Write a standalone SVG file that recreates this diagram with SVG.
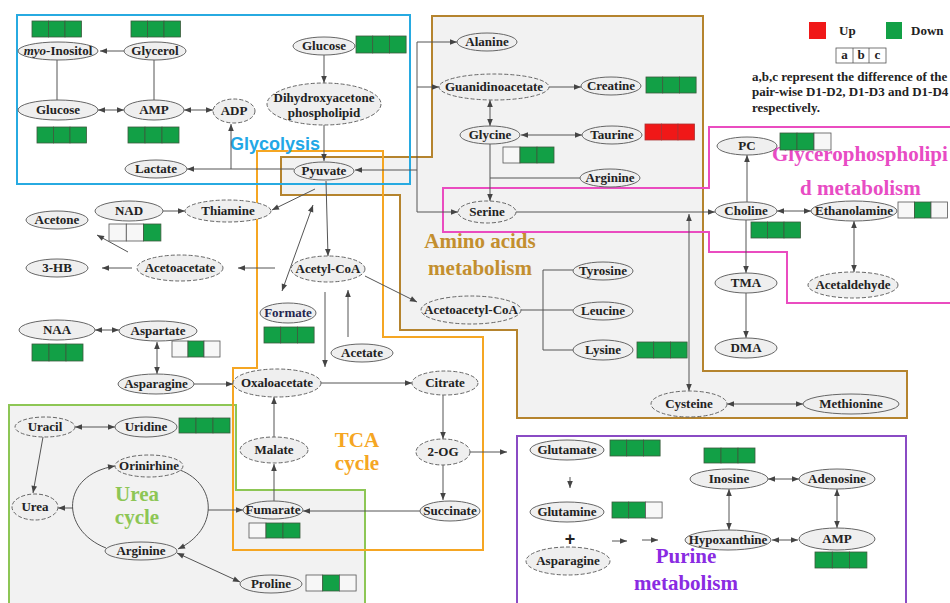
<svg xmlns="http://www.w3.org/2000/svg" width="950" height="603" viewBox="0 0 950 603">
<style>
.n{fill:#efefef;stroke:#666;stroke-width:1}
.d{fill:#efefef;stroke:#666;stroke-width:1;stroke-dasharray:4,2}
.t{font-family:"Liberation Serif","Times New Roman",serif;font-weight:bold;font-size:13px;fill:#222;text-anchor:middle}
.c{fill:none;stroke:#555;stroke-width:1}
.e{marker-end:url(#ah)}
.b{marker-start:url(#ah);marker-end:url(#ah)}
.G{fill:#12a046;stroke:#3d5a3d;stroke-width:0.8}
.W{fill:#f7f7f7;stroke:#555;stroke-width:0.8}
.R{fill:#f01818;stroke:#a33;stroke-width:0.8}
.ti{font-family:"Liberation Serif","Times New Roman",serif;font-weight:bold;font-size:21px}
.lg{font-family:"Liberation Serif","Times New Roman",serif;font-weight:bold;font-size:13px;fill:#222}
</style>
<defs>
<marker id="ah" viewBox="0 0 10 10" refX="10" refY="5" markerWidth="8" markerHeight="7" markerUnits="userSpaceOnUse" orient="auto-start-reverse">
<path d="M0,1 L10,5 L0,9 z" fill="#444"/>
</marker>
</defs>
<rect x="0" y="0" width="950" height="603" fill="#fff"/>

<g id="regions">
<rect x="17" y="15" width="393" height="169" fill="#fff"/>
<polygon points="257,151 383,151 383,337 483,337 483,550 233,550 233,368 257,368" fill="#fff"/>
<polygon points="432,16 703,16 703,371 907,371 907,418 517,418 517,330 400,330 400,195 281,195 281,157 432,157" fill="#f2f2f2" stroke="#b5842e" stroke-width="2"/>
<polygon points="9,405 236,405 236,490 365,490 365,606 9,606" fill="#f2f2f2" stroke="#8dc655" stroke-width="2"/>
<polygon points="257,151 383,151 383,337 483,337 483,550 233,550 233,368 257,368" fill="none" stroke="#f5a623" stroke-width="2"/>
<rect x="17" y="15" width="393" height="169" fill="none" stroke="#27aae1" stroke-width="2"/>
<polygon points="709,127 953,127 953,303 787,303 787,252 709,252 709,232 443,232 443,188 709,188" fill="none" stroke="#ea4cc0" stroke-width="2"/>
<rect x="517" y="436" width="389" height="172" fill="#fff" stroke="#8a4bc4" stroke-width="2"/>
</g>

<g id="titles">
<text x="230" y="150" font-family="Liberation Sans,Arial,sans-serif" font-weight="bold" font-size="18" fill="#22a7e6">Glycolysis</text>
<text class="ti" x="480" y="248" text-anchor="middle" fill="#c38f2f">Amino acids</text>
<text class="ti" x="480" y="275" text-anchor="middle" fill="#c38f2f">metabolism</text>
<text class="ti" x="357" y="447" text-anchor="middle" fill="#f5a623">TCA</text>
<text class="ti" x="357" y="470" text-anchor="middle" fill="#f5a623">cycle</text>
<text class="ti" x="137" y="501" text-anchor="middle" fill="#8dc655" font-size="22">Urea</text>
<text class="ti" x="137" y="524" text-anchor="middle" fill="#8dc655" font-size="22">cycle</text>
<text class="ti" x="686" y="563" text-anchor="middle" fill="#8a2be2">Purine</text>
<text class="ti" x="686" y="590" text-anchor="middle" fill="#8a2be2">metabolism</text>
<text class="ti" x="772" y="161" fill="#e84cc4">Glycerophospholipi</text>
<text class="ti" x="800" y="195" fill="#e84cc4">d metabolism</text>
</g>

<g id="legend">
<rect x="809" y="22" width="17" height="17" fill="#f01818"/>
<text class="lg" x="839" y="35">Up</text>
<rect x="886" y="22" width="16" height="17" fill="#12a046"/>
<text class="lg" x="911" y="35">Down</text>
<rect x="836" y="48" width="50" height="15" fill="#fff" stroke="#555" stroke-width="0.8"/>
<line x1="853" y1="48" x2="853" y2="63" stroke="#555" stroke-width="0.8"/>
<line x1="869" y1="48" x2="869" y2="63" stroke="#555" stroke-width="0.8"/>
<text class="lg" x="844.5" y="59" font-size="10" text-anchor="middle">a</text>
<text class="lg" x="861" y="59" font-size="10" text-anchor="middle">b</text>
<text class="lg" x="877.5" y="59" font-size="10" text-anchor="middle">c</text>
<text class="lg" x="752" y="81">a,b,c represent the difference of the</text>
<text class="lg" x="752" y="96">pair-wise D1-D2, D1-D3 and D1-D4</text>
<text class="lg" x="752" y="112">respectively.</text>
</g>

<g id="connectors">
<path class="c e" d="M124,51 L100,51"/>
<path class="c" d="M57,60 L57,100"/>
<path class="c" d="M154,60 L154,100"/>
<path class="c b" d="M98,110 L124,110"/>
<path class="c b" d="M184,110 L213,110"/>
<path class="c e" d="M324,55 L324,83"/>
<path class="c e" d="M324,125 L324,161"/>
<path class="c e" d="M294,169 L187,169"/>
<path class="c e" d="M231,169 L231,124"/>
<path class="c e" d="M417,170 L417,42 L457,42"/>
<path class="c e" d="M417,87 L439,87"/>
<path class="c e" d="M417,170 L355,170"/>
<path class="c e" d="M417,170 L417,212 L458,212"/>
<path class="c e" d="M549,87 L581,87"/>
<path class="c b" d="M490,100 L490,126"/>
<path class="c b" d="M521,135 L582,135"/>
<path class="c e" d="M490,144 L490,201"/>
<path class="c" d="M490,178 L580,178"/>
<path class="c e" d="M516,212 L715,212"/>
<path class="c b" d="M689,214 L689,391"/>
<path class="c e" d="M747,202 L747,155"/>
<path class="c e" d="M746,220 L746,273"/>
<path class="c e" d="M746,293 L746,338"/>
<path class="c b" d="M777,211 L811,211"/>
<path class="c b" d="M854,221 L854,272"/>
<path class="c e" d="M315,189 L272,210"/>
<path class="c e" d="M326,181 L328,256"/>
<path class="c b" d="M313,205 L282,291"/>
<path class="c e" d="M163,211 L185,211"/>
<path class="c e" d="M275,268 L238,268"/>
<path class="c e" d="M132,268 L102,268"/>
<path class="c e" d="M128,252 L97,235"/>
<path class="c e" d="M365,276 L417,302"/>
<path class="c e" d="M348,337 L348,290"/>
<path class="c e" d="M325,292 L325,367"/>
<path class="c" d="M505,310 L573,310"/>
<path class="c" d="M573,270 L543,270 L543,350 L573,350"/>
<path class="c b" d="M95,330 L119,330"/>
<path class="c b" d="M157,342 L157,374"/>
<path class="c e" d="M194,384 L233,384"/>
<path class="c e" d="M321,383 L412,383"/>
<path class="c e" d="M443,395 L443,439"/>
<path class="c e" d="M470,452 L507,452"/>
<path class="c e" d="M443,465 L443,500"/>
<path class="c e" d="M420,511 L303,511"/>
<path class="c e" d="M274,501 L274,464"/>
<path class="c e" d="M274,437 L274,397"/>
<path class="c b" d="M727,404 L803,404"/>
<path class="c b" d="M75,427 L115,427"/>
<path class="c e" d="M43,437 L33,493"/>
<path class="c e" d="M106,548 C60,530 60,475 115,466"/>
<path class="c e" d="M180,470 C218,485 218,530 178,549"/>
<path class="c e" d="M73,508 L58,508"/>
<path class="c e" d="M208,510 L243,510"/>
<path class="c b" d="M177,553 L240,582"/>
<path class="c e" d="M570,477 L570,488"/>
<path class="c e" d="M612,541 L627,541"/>
<path class="c e" d="M642,540 L658,540"/>
<path class="c b" d="M768,479 L799,479"/>
<path class="c b" d="M729,489 L729,530"/>
<path class="c b" d="M837,489 L837,528"/>
<path class="c b" d="M772,540 L798,540"/>
</g>

<g id="myo-inositol"><ellipse class="n" cx="58" cy="51" rx="40" ry="9"/><text class="t" x="58" y="55"><tspan font-style="italic">myo</tspan>-Inositol</text>
<rect class="G" x="32" y="21" width="16.5" height="16"/><rect class="G" x="48.5" y="21" width="16.5" height="16"/><rect class="G" x="65" y="21" width="16.5" height="16"/></g>
<g id="glycerol"><ellipse class="n" cx="155" cy="51" rx="31" ry="9"/><text class="t" x="155" y="55">Glycerol</text>
<rect class="G" x="131" y="21" width="16.5" height="16"/><rect class="G" x="147.5" y="21" width="16.5" height="16"/><rect class="G" x="164" y="21" width="16.5" height="16"/></g>
<g id="glucose1"><ellipse class="n" cx="58" cy="110" rx="40" ry="10"/><text class="t" x="58" y="114">Glucose</text>
<rect class="G" x="37" y="127" width="16.5" height="16"/><rect class="G" x="53.5" y="127" width="16.5" height="16"/><rect class="G" x="70" y="127" width="16.5" height="16"/></g>
<g id="amp1"><ellipse class="n" cx="154" cy="110" rx="30" ry="10"/><text class="t" x="154" y="114">AMP</text>
<rect class="G" x="128" y="127" width="17" height="16"/><rect class="G" x="145" y="127" width="17" height="16"/><rect class="G" x="162" y="127" width="17" height="16"/></g>
<g id="adp"><ellipse class="d" cx="234" cy="111" rx="21" ry="12"/><text class="t" x="234" y="115">ADP</text></g>
<g id="lactate"><ellipse class="n" cx="156" cy="169" rx="31" ry="9"/><text class="t" x="156" y="173">Lactate</text></g>
<g id="glucose2"><ellipse class="n" cx="324" cy="46" rx="31" ry="9"/><text class="t" x="324" y="50">Glucose</text>
<rect class="G" x="356" y="36" width="16.7" height="17"/><rect class="G" x="372.7" y="36" width="16.7" height="17"/><rect class="G" x="389.4" y="36" width="16.7" height="17"/></g>
<g id="dhap"><ellipse class="d" cx="324" cy="104" rx="57" ry="21"/><text class="t" x="324" y="102">Dihydroxyacetone</text><text class="t" x="324" y="117">phospholipid</text></g>
<g id="pyuvate"><ellipse class="n" cx="324" cy="171" rx="30" ry="9"/><text class="t" x="324" y="175">Pyuvate</text></g>
<g id="alanine"><ellipse class="n" cx="487" cy="42" rx="30" ry="9"/><text class="t" x="487" y="46">Alanine</text></g>
<g id="guanidinoacetate"><ellipse class="d" cx="494" cy="87" rx="55" ry="13"/><text class="t" x="494" y="91">Guanidinoacetate</text></g>
<g id="creatine"><ellipse class="n" cx="611" cy="86" rx="30" ry="9"/><text class="t" x="611" y="90">Creatine</text>
<rect class="G" x="646" y="77" width="16.7" height="16"/><rect class="G" x="662.7" y="77" width="16.7" height="16"/><rect class="G" x="679.4" y="77" width="16.7" height="16"/></g>
<g id="glycine"><ellipse class="n" cx="490" cy="135" rx="30" ry="9"/><text class="t" x="490" y="139">Glycine</text>
<rect class="W" x="503" y="147" width="17" height="16"/><rect class="G" x="520" y="147" width="17" height="16"/><rect class="G" x="537" y="147" width="17" height="16"/></g>
<g id="taurine"><ellipse class="n" cx="612" cy="135" rx="30" ry="9"/><text class="t" x="612" y="139">Taurine</text>
<rect class="R" x="645" y="124" width="16.5" height="16"/><rect class="R" x="661.5" y="124" width="16.5" height="16"/><rect class="R" x="678" y="124" width="16.5" height="16"/></g>
<g id="arginine1"><ellipse class="n" cx="610" cy="178" rx="30" ry="9"/><text class="t" x="610" y="182">Arginine</text></g>
<g id="serine"><ellipse class="d" cx="487" cy="212" rx="29" ry="11"/><text class="t" x="487" y="216">Serine</text></g>
<g id="pc"><ellipse class="n" cx="747" cy="146" rx="30" ry="9"/><text class="t" x="747" y="150">PC</text>
<rect class="G" x="780" y="133" width="17" height="17"/><rect class="G" x="797" y="133" width="17" height="17"/><rect class="W" x="814" y="133" width="17" height="17"/></g>
<g id="choline"><ellipse class="n" cx="746" cy="211" rx="31" ry="9"/><text class="t" x="746" y="215">Choline</text>
<rect class="G" x="751" y="222" width="16.5" height="16"/><rect class="G" x="767.5" y="222" width="16.5" height="16"/><rect class="G" x="784" y="222" width="16.5" height="16"/></g>
<g id="ethanolamine"><ellipse class="n" cx="854" cy="211" rx="43" ry="10"/><text class="t" x="854" y="215">Ethanolamine</text>
<rect class="W" x="898" y="202" width="16.5" height="16"/><rect class="G" x="914.5" y="202" width="16.5" height="16"/><rect class="W" x="931" y="202" width="16.5" height="16"/></g>
<g id="tma"><ellipse class="n" cx="746" cy="283" rx="31" ry="10"/><text class="t" x="746" y="287">TMA</text></g>
<g id="dma"><ellipse class="n" cx="746" cy="348" rx="31" ry="10"/><text class="t" x="746" y="352">DMA</text></g>
<g id="acetaldehyde"><ellipse class="d" cx="853" cy="285" rx="45" ry="13"/><text class="t" x="853" y="289">Acetaldehyde</text></g>
<g id="acetone"><ellipse class="n" cx="57" cy="220" rx="31" ry="9"/><text class="t" x="57" y="224">Acetone</text></g>
<g id="nad"><ellipse class="n" cx="129" cy="211" rx="34" ry="10"/><text class="t" x="129" y="215">NAD</text>
<rect class="W" x="109" y="224" width="17.3" height="17"/><rect class="W" x="126.3" y="224" width="17.3" height="17"/><rect class="G" x="143.6" y="224" width="17.3" height="17"/></g>
<g id="thiamine"><ellipse class="d" cx="228" cy="211" rx="43" ry="11"/><text class="t" x="228" y="215">Thiamine</text></g>
<g id="3-hb"><ellipse class="n" cx="57" cy="268" rx="31" ry="9"/><text class="t" x="57" y="272">3-HB</text></g>
<g id="acetoacetate"><ellipse class="d" cx="180" cy="268" rx="43" ry="13"/><text class="t" x="180" y="272">Acetoacetate</text></g>
<g id="acetyl-coa"><ellipse class="d" cx="328" cy="269" rx="37" ry="13"/><text class="t" x="328" y="273">Acetyl-CoA</text></g>
<g id="formate"><ellipse class="n" cx="288" cy="313" rx="28" ry="10"/><text class="t" x="288" y="317" style="fill:#252550">Formate</text>
<rect class="G" x="264" y="327" width="16.7" height="16"/><rect class="G" x="280.7" y="327" width="16.7" height="16"/><rect class="G" x="297.4" y="327" width="16.7" height="16"/></g>
<g id="acetate"><ellipse class="n" cx="362" cy="353" rx="31" ry="9"/><text class="t" x="362" y="357">Acetate</text></g>
<g id="acetoacetyl-coa"><ellipse class="d" cx="471" cy="310" rx="50" ry="14"/><text class="t" x="471" y="314">Acetoacetyl-CoA</text></g>
<g id="tyrosine"><ellipse class="n" cx="603" cy="271" rx="30" ry="9"/><text class="t" x="603" y="275">Tyrosine</text></g>
<g id="leucine"><ellipse class="n" cx="603" cy="311" rx="30" ry="9"/><text class="t" x="603" y="315">Leucine</text></g>
<g id="lysine"><ellipse class="n" cx="603" cy="350" rx="30" ry="10"/><text class="t" x="603" y="354">Lysine</text>
<rect class="G" x="637" y="342" width="16.7" height="16"/><rect class="G" x="653.7" y="342" width="16.7" height="16"/><rect class="G" x="670.4" y="342" width="16.7" height="16"/></g>
<g id="naa"><ellipse class="n" cx="57" cy="330" rx="38" ry="10"/><text class="t" x="57" y="334">NAA</text>
<rect class="G" x="32" y="344" width="17" height="17"/><rect class="G" x="49" y="344" width="17" height="17"/><rect class="G" x="66" y="344" width="17" height="17"/></g>
<g id="aspartate"><ellipse class="n" cx="158" cy="331" rx="39" ry="10"/><text class="t" x="158" y="335">Aspartate</text>
<rect class="W" x="172" y="341" width="16" height="16"/><rect class="G" x="188" y="341" width="16" height="16"/><rect class="W" x="204" y="341" width="16" height="16"/></g>
<g id="asparagine1"><ellipse class="n" cx="156" cy="384" rx="38" ry="10"/><text class="t" x="156" y="388">Asparagine</text></g>
<g id="oxaloacetate"><ellipse class="d" cx="277" cy="383" rx="44" ry="14"/><text class="t" x="277" y="387">Oxaloacetate</text></g>
<g id="citrate"><ellipse class="d" cx="445" cy="383" rx="33" ry="12"/><text class="t" x="445" y="387">Citrate</text></g>
<g id="2-og"><ellipse class="d" cx="443" cy="452" rx="27" ry="13"/><text class="t" x="443" y="456">2-OG</text></g>
<g id="succinate"><ellipse class="n" cx="450" cy="511" rx="30" ry="10"/><text class="t" x="450" y="515">Succinate</text></g>
<g id="malate"><ellipse class="d" cx="274" cy="450" rx="34" ry="13"/><text class="t" x="274" y="454">Malate</text></g>
<g id="fumarate"><ellipse class="n" cx="273" cy="510" rx="30" ry="9"/><text class="t" x="273" y="514">Fumarate</text>
<rect class="W" x="249" y="523" width="17" height="15"/><rect class="G" x="266" y="523" width="17" height="15"/><rect class="G" x="283" y="523" width="17" height="15"/></g>
<g id="cysteine"><ellipse class="d" cx="689" cy="404" rx="38" ry="13"/><text class="t" x="689" y="408">Cysteine</text></g>
<g id="methionine"><ellipse class="n" cx="851" cy="404" rx="48" ry="10"/><text class="t" x="851" y="408">Methionine</text></g>
<g id="uracil"><ellipse class="d" cx="45" cy="427" rx="30" ry="10"/><text class="t" x="45" y="431">Uracil</text></g>
<g id="uridine"><ellipse class="n" cx="146" cy="427" rx="31" ry="10"/><text class="t" x="146" y="431">Uridine</text>
<rect class="G" x="179" y="418" width="17" height="15"/><rect class="G" x="196" y="418" width="17" height="15"/><rect class="G" x="213" y="418" width="17" height="15"/></g>
<g id="urea"><ellipse class="d" cx="35" cy="507" rx="23" ry="13"/><text class="t" x="35" y="511">Urea</text></g>
<g id="orinirhine"><ellipse class="d" cx="149" cy="466" rx="34" ry="11"/><text class="t" x="149" y="470">Orinirhine</text></g>
<g id="arginine2"><ellipse class="n" cx="141" cy="551" rx="36" ry="9"/><text class="t" x="141" y="555">Arginine</text></g>
<g id="proline"><ellipse class="n" cx="271" cy="584" rx="31" ry="9"/><text class="t" x="271" y="588">Proline</text>
<rect class="W" x="306" y="575" width="16.7" height="16"/><rect class="G" x="322.7" y="575" width="16.7" height="16"/><rect class="W" x="339.4" y="575" width="16.7" height="16"/></g>
<g id="glutamate"><ellipse class="n" cx="567" cy="450" rx="37" ry="10"/><text class="t" x="567" y="454">Glutamate</text>
<rect class="G" x="610" y="440" width="16.7" height="16"/><rect class="G" x="626.7" y="440" width="16.7" height="16"/><rect class="G" x="643.4" y="440" width="16.7" height="16"/></g>
<g id="glutamine"><ellipse class="n" cx="567" cy="512" rx="37" ry="10"/><text class="t" x="567" y="516">Glutamine</text>
<rect class="G" x="612" y="502" width="16.7" height="16"/><rect class="G" x="628.7" y="502" width="16.7" height="16"/><rect class="W" x="645.4" y="502" width="16.7" height="16"/></g>
<g id="plus"><text x="570" y="545" font-family="Liberation Sans,Arial,sans-serif" font-weight="bold" font-size="18" fill="#222" text-anchor="middle">+</text></g>
<g id="asparagine2"><ellipse class="d" cx="568" cy="561" rx="42" ry="14"/><text class="t" x="568" y="565">Asparagine</text></g>
<g id="inosine"><ellipse class="n" cx="729" cy="479" rx="39" ry="10"/><text class="t" x="729" y="483">Inosine</text>
<rect class="G" x="704" y="448" width="17" height="15"/><rect class="G" x="721" y="448" width="17" height="15"/><rect class="G" x="738" y="448" width="17" height="15"/></g>
<g id="adenosine"><ellipse class="n" cx="837" cy="479" rx="38" ry="10"/><text class="t" x="837" y="483">Adenosine</text></g>
<g id="hypoxanthine"><ellipse class="n" cx="728" cy="540" rx="43" ry="10"/><text class="t" x="728" y="544">Hypoxanthine</text></g>
<g id="amp2"><ellipse class="n" cx="837" cy="539" rx="38" ry="11"/><text class="t" x="837" y="543">AMP</text>
<rect class="G" x="815" y="552" width="17.3" height="16"/><rect class="G" x="832.3" y="552" width="17.3" height="16"/><rect class="G" x="849.6" y="552" width="17.3" height="16"/></g>
</svg>
